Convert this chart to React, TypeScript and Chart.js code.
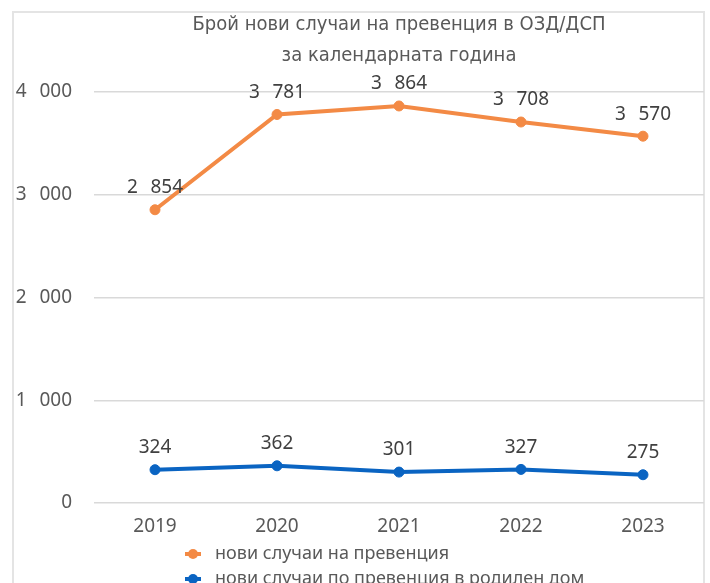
import React, { useEffect, useRef } from "react";
import { Chart, registerables } from "chart.js";

Chart.register(...registerables);

const titleLines = ["Брой нови случаи на превенция в ОЗД/ДСП", "за календарната година"];
const years = ["2019", "2020", "2021", "2022", "2023"];
const preventionCases = [2854, 3781, 3864, 3708, 3570];
const maternityCases = [324, 362, 301, 327, 275];
const seriesNames = ["нови случаи на превенция", "нови случаи по превенция в родилен дом"];
const seriesColors = ["#F38A45", "#0A64C2"];
const yTicks = [0, 1000, 2000, 3000, 4000];

const FONT = "'Noto Sans', 'Liberation Sans', sans-serif";
const TITLE_FONT = "'Liberation Sans Narrow', 'DejaVu Sans Condensed', 'Liberation Sans', sans-serif";

function fmt(n: number): string {
  if (n >= 1000) {
    return Math.floor(n / 1000) + "\u2002\u2009" + String(n % 1000).padStart(3, "0");
  }
  return String(n);
}

const dataLabelPlugin = {
  id: "dataLabels",
  afterDatasetsDraw(chart: any) {
    const ctx = chart.ctx;
    ctx.save();
    ctx.font = `19px ${FONT}`;
    ctx.fillStyle = "#404040";
    ctx.textAlign = "center";
    ctx.textBaseline = "middle";
    chart.data.datasets.forEach((ds: any, i: number) => {
      const meta = chart.getDatasetMeta(i);
      meta.data.forEach((pt: any, j: number) => {
        ctx.fillText(fmt(ds.data[j]), pt.x, pt.y - 22);
      });
    });
    ctx.restore();
  },
};

const legendPlugin = {
  id: "customLegend",
  afterDraw(chart: any) {
    const ctx = chart.ctx;
    const area = chart.chartArea;
    ctx.save();
    ctx.font = `18px ${FONT}`;
    ctx.textBaseline = "middle";
    ctx.textAlign = "left";
    chart.data.datasets.forEach((ds: any, i: number) => {
      const y = area.bottom + 51 + i * 25;
      const x = 193;
      ctx.strokeStyle = ds.borderColor;
      ctx.lineWidth = 4;
      ctx.beginPath();
      ctx.moveTo(x - 8, y);
      ctx.lineTo(x + 8, y);
      ctx.stroke();
      ctx.fillStyle = ds.borderColor;
      ctx.beginPath();
      ctx.arc(x, y, 5, 0, Math.PI * 2);
      ctx.fill();
      ctx.fillStyle = "#595959";
      ctx.fillText(ds.label, x + 22, y);
    });
    ctx.restore();
  },
};

export default function App() {
  const ref = useRef<HTMLCanvasElement>(null);
  useEffect(() => {
    if (!ref.current) return;
    const chart = new Chart(ref.current, {
      type: "line",
      data: {
        labels: years,
        datasets: [
          {
            label: seriesNames[0],
            data: preventionCases,
            borderColor: seriesColors[0],
            backgroundColor: seriesColors[0],
            borderWidth: 4,
            pointRadius: 5,
            pointBorderWidth: 1,
            pointHoverRadius: 5,
            tension: 0,
          },
          {
            label: seriesNames[1],
            data: maternityCases,
            borderColor: seriesColors[1],
            backgroundColor: seriesColors[1],
            borderWidth: 4,
            pointRadius: 5,
            pointBorderWidth: 1,
            pointHoverRadius: 5,
            tension: 0,
          },
        ],
      },
      options: {
        animation: false,
        responsive: false,
        maintainAspectRatio: false,
        layout: { padding: { left: 14, right: 4, top: 0, bottom: 57 } },
        plugins: {
          legend: { display: false },
          tooltip: { enabled: false },
          title: {
            display: true,
            fullSize: false,
            text: titleLines,
            color: "#595959",
            font: { family: TITLE_FONT, size: 20, weight: "normal", lineHeight: 1.55 },
            padding: { top: 9, bottom: 21 },
          },
        },
        scales: {
          x: {
            offset: true,
            grid: { display: false },
            border: { display: false },
            ticks: { color: "#595959", font: { family: FONT, size: 19 }, padding: 4 },
            afterFit(scale: any) {
              scale.height = 40;
            },
          },
          y: {
            min: 0,
            max: 4000,
            afterBuildTicks(scale: any) {
              scale.ticks = yTicks.map((v) => ({ value: v }));
            },
            afterFit(scale: any) {
              scale.width = 80;
            },
            grid: { color: "#d9d9d9", lineWidth: 1.5, drawTicks: false },
            border: { display: false },
            ticks: {
              color: "#595959",
              font: { family: FONT, size: 19 },
              padding: 22,
              callback: (v: any) => fmt(Number(v)),
            },
          },
        },
      },
      plugins: [dataLabelPlugin, legendPlugin],
    } as any);
    return () => chart.destroy();
  }, []);
  return (
    <div style={{ position: "fixed", left: 0, top: 0, width: 710, height: 600, background: "#fff" }}>
      <div
        style={{
          position: "absolute",
          left: 12,
          top: 11,
          width: 693,
          height: 600,
          border: "2px solid #e4e4e4",
          borderBottom: "none",
          boxSizing: "border-box",
        }}
      />
      <canvas ref={ref} width={710} height={600} style={{ position: "absolute", left: 0, top: 0 }} />
    </div>
  );
}
